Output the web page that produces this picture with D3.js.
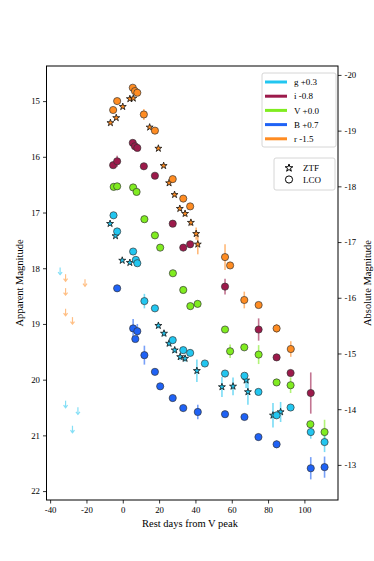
<!DOCTYPE html>
<html>
<head>
<meta charset="utf-8">
<script src="https://cdn.jsdelivr.net/npm/d3@7"></script>
<style>
  body { margin: 0; background: #fff; }
  text { font-family: "Liberation Serif", "DejaVu Serif", serif; }
</style>
</head>
<body>
<div id="viz"></div>
<script>
// plotted (already offset) magnitudes, days from V peak
const gDays = [-5.1, -3.1, 5.7, 7.2, 8.0, 11.9, 17.7, 27.5, 33.3, 37.1, 45.2, 56.3, 67.0, 74.7, 84.7, 92.4, 103.5, 111.1];
const gMags = [17.05, 17.34, 17.70, 17.85, 17.91, 18.59, 18.72, 19.29, 19.47, 19.52, 19.71, 19.89, 19.93, 20.22, 20.64, 20.50, 20.94, 21.12];
const gErrs = [0.03, 0.03, 0.03, 0.03, 0.03, 0.13, 0.03, 0.03, 0.03, 0.03, 0.04, 0.05, 0.05, 0.05, 0.06, 0.06, 0.12, 0.18];

const gZtfDays = [-7.0, -4.0, -0.3, 3.9, 19.6, 22.7, 25.5, 28.6, 31.6, 34.3, 40.8, 54.6, 60.7, 67.9, 68.9, 82.7, 86.9];
const gZtfMags = [17.20, 17.42, 17.86, 17.90, 19.03, 19.17, 19.35, 19.47, 19.59, 19.62, 19.84, 20.13, 20.12, 20.01, 20.22, 20.64, 20.58];
const gZtfErrs = [0.02, 0.03, 0.03, 0.03, 0.05, 0.05, 0.05, 0.05, 0.06, 0.06, 0.20, 0.18, 0.16, 0.14, 0.23, 0.22, 0.18];

const iDays = [-5.3, -3.1, 5.5, 6.7, 8.0, 11.6, 17.7, 27.5, 33.3, 37.1, 56.3, 74.8, 84.7, 92.4, 103.5];
const iMags = [16.15, 16.08, 15.75, 15.81, 15.84, 16.17, 16.34, 17.20, 17.63, 17.57, 18.33, 19.10, 19.60, 19.88, 20.24];
const iErrs = [0.02, 0.10, 0.02, 0.02, 0.02, 0.02, 0.02, 0.03, 0.03, 0.03, 0.14, 0.20, 0.06, 0.06, 0.37];

const vDays = [-5.0, -3.1, 5.7, 7.6, 11.9, 17.7, 20.6, 27.6, 33.3, 37.2, 41.2, 56.3, 59.1, 66.9, 74.8, 84.7, 92.4, 103.3, 111.1];
const vMags = [16.54, 16.53, 16.55, 16.63, 17.12, 17.41, 17.63, 18.09, 18.39, 18.68, 18.64, 19.10, 19.49, 19.42, 19.55, 20.05, 20.10, 20.80, 20.94];
const vErrs = [0.02, 0.02, 0.02, 0.02, 0.02, 0.02, 0.02, 0.03, 0.03, 0.03, 0.03, 0.04, 0.12, 0.04, 0.17, 0.05, 0.14, 0.06, 0.22];

const bDays = [-3.1, 5.7, 6.9, 8.0, 11.9, 17.7, 20.6, 27.5, 33.3, 41.3, 56.3, 67.0, 74.7, 84.7, 103.5, 111.1];
const bMags = [18.36, 19.08, 19.27, 19.13, 19.56, 19.86, 20.12, 20.33, 20.51, 20.58, 20.62, 20.67, 21.03, 21.16, 21.59, 21.57];
const bErrs = [0.03, 0.17, 0.04, 0.13, 0.17, 0.04, 0.05, 0.04, 0.05, 0.13, 0.05, 0.06, 0.06, 0.07, 0.20, 0.19];

const rDays = [-5.3, -3.1, 5.5, 6.7, 8.0, 11.6, 17.7, 27.5, 33.3, 37.1, 56.3, 59.1, 66.9, 74.8, 84.7, 92.5];
const rMags = [15.16, 15.00, 14.76, 14.82, 14.85, 15.24, 15.53, 16.40, 16.75, 16.89, 17.80, 17.95, 18.57, 18.66, 19.08, 19.45];
const rErrs = [0.02, 0.02, 0.02, 0.02, 0.02, 0.10, 0.02, 0.03, 0.03, 0.03, 0.23, 0.04, 0.15, 0.04, 0.08, 0.14];

const rZtfDays = [-6.8, -3.6, 0.0, 3.9, 5.8, 14.8, 19.6, 22.5, 25.5, 28.5, 31.4, 34.3, 37.5, 40.4, 41.3];
const rZtfMags = [15.39, 15.30, 15.10, 14.96, 14.95, 15.47, 15.85, 16.16, 16.47, 16.68, 16.93, 17.02, 17.18, 17.38, 17.57];
const rZtfErrs = [0.02, 0.02, 0.02, 0.02, 0.02, 0.03, 0.03, 0.03, 0.03, 0.04, 0.04, 0.05, 0.06, 0.11, 0.18];

// upper limits
const gLimDays = [-34.5, -31.5, -24.7, -27.7];
const gLimMags = [18.05, 20.44, 20.56, 20.89];
const rLimDays = [-31.5, -20.8, -31.5, -31.5, -27.7];
const rLimMags = [18.17, 18.26, 18.42, 18.79, 18.94];

const bandNames = ['g +0.3', 'i -0.8', 'V +0.0', 'B +0.7', 'r -1.5'];
const bandColors = ['#22c6f0', '#9c1a4b', '#80ec20', '#1f62f5', '#ff8c22'];
const xTickValues = [-40, -20, 0, 20, 40, 60, 80, 100];
const yTickValues = [15, 16, 17, 18, 19, 20, 21, 22];
const absTickValues = [-20, -19, -18, -17, -16, -15, -14, -13];
const distMod = 34.53;

const width = 374, height = 561;
const margin = { top: 66, right: 36, bottom: 61, left: 46.5 };
const plotWidth = width - margin.left - margin.right;
const plotHeight = height - margin.top - margin.bottom;

const x = d3.scaleLinear().domain([-42, 118.5]).range([0, plotWidth]);
const y = d3.scaleLinear().domain([14.37, 22.16]).range([0, plotHeight]);
const yAbs = d3.scaleLinear().domain([14.37 - distMod, 22.16 - distMod]).range([0, plotHeight]);

const svg = d3.select('#viz').append('svg')
              .attr('width', width).attr('height', height);
const g = svg.append('g').attr('transform', `translate(${margin.left},${margin.top})`);

const fmt = (v) => String(v); // hyphen minus like the figure

function errorBars(days, mags, errs, color) {
  g.append('g').selectAll('line').data(days).enter().append('line')
    .attr('x1', (d) => x(d)).attr('x2', (d) => x(d))
    .attr('y1', (d, i) => y(mags[i] - errs[i]))
    .attr('y2', (d, i) => y(mags[i] + errs[i]))
    .attr('stroke', color).attr('stroke-width', 1.6).attr('opacity', 0.6);
}

function circles(days, mags, color) {
  g.append('g').selectAll('circle').data(days).enter().append('circle')
    .attr('cx', (d) => x(d)).attr('cy', (d, i) => y(mags[i]))
    .attr('r', 3.6)
    .attr('fill', color).attr('stroke', '#333').attr('stroke-opacity', 0.85).attr('stroke-width', 0.8);
}

const star = d3.symbol().type(d3.symbolStar).size(15);
function stars(days, mags, color) {
  g.append('g').selectAll('path').data(days).enter().append('path')
    .attr('d', star)
    .attr('transform', (d, i) => `translate(${x(d)},${y(mags[i])})`)
    .attr('fill', color).attr('stroke', '#111').attr('stroke-width', 0.8);
}

function limits(days, mags, color) {
  const lg = g.append('g').attr('opacity', 0.55);
  lg.selectAll('line').data(days).enter().append('line')
    .attr('x1', (d) => x(d)).attr('x2', (d) => x(d))
    .attr('y1', (d, i) => y(mags[i]) - 3.5).attr('y2', (d, i) => y(mags[i]) + 3.5)
    .attr('stroke', color).attr('stroke-width', 1.2);
  lg.selectAll('path').data(days).enter().append('path')
    .attr('d', (d, i) => {
      const px = x(d), py = y(mags[i]) + 3.5;
      return `M${px - 2},${py - 2.5}L${px},${py}L${px + 2},${py - 2.5}`;
    })
    .attr('fill', 'none').attr('stroke', color).attr('stroke-width', 1.2);
}

limits(gLimDays, gLimMags, bandColors[0]);
limits(rLimDays, rLimMags, bandColors[4]);

errorBars(rDays, rMags, rErrs, bandColors[4]);
errorBars(rZtfDays, rZtfMags, rZtfErrs, bandColors[4]);
errorBars(iDays, iMags, iErrs, bandColors[1]);
errorBars(vDays, vMags, vErrs, bandColors[2]);
errorBars(gDays, gMags, gErrs, bandColors[0]);
errorBars(gZtfDays, gZtfMags, gZtfErrs, bandColors[0]);
errorBars(bDays, bMags, bErrs, bandColors[3]);

stars(rZtfDays, rZtfMags, bandColors[4]);
circles(rDays, rMags, bandColors[4]);
circles(iDays, iMags, bandColors[1]);
circles(vDays, vMags, bandColors[2]);
stars(gZtfDays, gZtfMags, bandColors[0]);
circles(gDays, gMags, bandColors[0]);
circles(bDays, bMags, bandColors[3]);

// axes
const xAxis = g.append('g').attr('transform', `translate(0,${plotHeight})`)
  .call(d3.axisBottom(x).tickValues(xTickValues).tickFormat(fmt).tickSize(3.5).tickSizeOuter(0));
const yAxis = g.append('g')
  .call(d3.axisLeft(y).tickValues(yTickValues).tickFormat(fmt).tickSize(3.5).tickSizeOuter(0));
const yAxisRight = g.append('g').attr('transform', `translate(${plotWidth},0)`)
  .call(d3.axisRight(yAbs).tickValues(absTickValues).tickFormat(fmt).tickSize(3.5).tickSizeOuter(0));

[xAxis, yAxis, yAxisRight].forEach((a) => {
  a.selectAll('text').attr('font-size', 8.8).attr('fill', '#000')
    .style('font-family', '"Liberation Serif", serif');
  a.selectAll('line').attr('stroke', '#000').attr('stroke-width', 0.8);
  a.select('.domain').remove();
});

g.append('rect').attr('width', plotWidth).attr('height', plotHeight)
  .attr('fill', 'none').attr('stroke', '#000').attr('stroke-width', 1);

// axis labels
svg.append('text').attr('x', margin.left + x(37)).attr('y', 527)
  .attr('text-anchor', 'middle').attr('font-size', 10.5).text('Rest days from V peak');
svg.append('text').attr('transform', `translate(23,${margin.top + plotHeight / 2}) rotate(-90)`)
  .attr('text-anchor', 'middle').attr('font-size', 10.5).text('Apparent Magnitude');
svg.append('text').attr('transform', `translate(371,${margin.top + plotHeight / 2}) rotate(-90)`)
  .attr('text-anchor', 'middle').attr('font-size', 10.5).text('Absolute Magnitude');

// band legend
const leg = svg.append('g').attr('transform', 'translate(262,73)');
leg.append('rect').attr('width', 74).attr('height', 74).attr('rx', 2)
  .attr('fill', '#fff').attr('fill-opacity', 0.8).attr('stroke', '#ccc').attr('stroke-width', 0.8);
bandNames.forEach((name, i) => {
  const ly = 9 + i * 14.2;
  leg.append('line').attr('x1', 3).attr('x2', 25).attr('y1', ly).attr('y2', ly)
    .attr('stroke', bandColors[i]).attr('stroke-width', 3);
  leg.append('text').attr('x', 32).attr('y', ly).attr('dy', '0.35em')
    .attr('font-size', 9).text(name);
});

// survey legend
const leg2 = svg.append('g').attr('transform', 'translate(274,158)');
leg2.append('rect').attr('width', 61).attr('height', 32).attr('rx', 2)
  .attr('fill', '#fff').attr('fill-opacity', 0.8).attr('stroke', '#ccc').attr('stroke-width', 0.8);
leg2.append('path').attr('d', d3.symbol().type(d3.symbolStar).size(18))
  .attr('transform', 'translate(15,10)').attr('fill', '#fff').attr('stroke', '#000').attr('stroke-width', 1);
leg2.append('circle').attr('cx', 15).attr('cy', 21.5).attr('r', 3.6)
  .attr('fill', '#fff').attr('stroke', '#000').attr('stroke-width', 1);
leg2.append('text').attr('x', 29).attr('y', 10).attr('dy', '0.35em').attr('font-size', 9).text('ZTF');
leg2.append('text').attr('x', 29).attr('y', 21.5).attr('dy', '0.35em').attr('font-size', 9).text('LCO');
</script>
</body>
</html>
